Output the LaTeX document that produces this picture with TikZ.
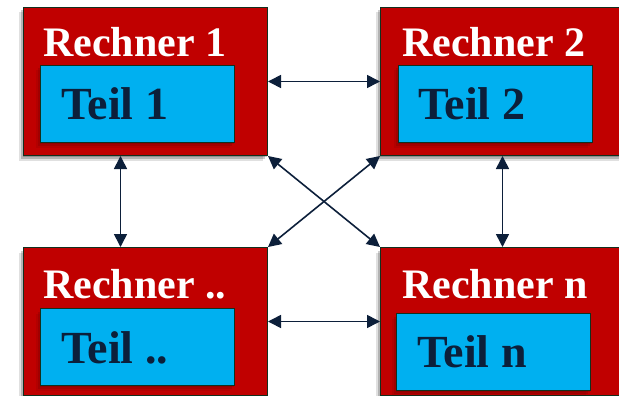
\documentclass[tikz,border=0pt]{standalone}
\usepackage{fontspec}
\setmainfont{Liberation Serif}
\usetikzlibrary{arrows.meta}
\definecolor{boxred}{HTML}{C00000}
\definecolor{teilblue}{HTML}{00B0F0}
\definecolor{edgegreen}{HTML}{12301E}
\definecolor{navy}{HTML}{0C1F3A}
\definecolor{shadowred}{HTML}{5A0000}
\tikzset{
  softshadow/.style 2 args={
    preaction={draw=none, fill=#1, opacity=0.12, transform canvas={shift={(-#2-2pt,-#2-2pt)}}},
    preaction={draw=none, fill=#1, opacity=0.2, transform canvas={shift={(-#2,-#2)}}},
    preaction={draw=none, fill=#1, opacity=0.2, transform canvas={shift={(-#2+2pt,-#2+2pt)}}}},
  rechner/.style={draw=edgegreen, line width=1pt, fill=boxred, rectangle, inner sep=0pt,
    minimum width=244pt, minimum height=148pt, anchor=north west,
    softshadow={black}{3pt}},
  teil/.style={draw=edgegreen, line width=1pt, fill=teilblue, rectangle, inner sep=0pt,
    minimum width=194pt, minimum height=77pt, anchor=north west,
    softshadow={shadowred}{3pt}},
  rlabel/.style={text=white, font=\bfseries\fontsize{42}{42}\selectfont, anchor=base west, inner sep=0pt},
  tlabel/.style={text=navy, font=\bfseries\fontsize{46}{46}\selectfont, anchor=base west, inner sep=0pt},
  link/.style={draw=navy, line width=1.6pt, {Triangle[length=13pt,width=13pt]}-{Triangle[length=13pt,width=13pt]}}
}
\begin{document}
\begin{tikzpicture}[x=1pt,y=-1pt]
\useasboundingbox (0,0) rectangle (619,396);
\clip (0,0) rectangle (619,396);
% boxes
\node[rechner] (r1) at (23,7) {};
\node[rechner] (r2) at (380,7) {};
\node[rechner] (r3) at (23,247) {};
\node[rechner] (r4) at (380,247) {};
\node[teil] (t1) at (40,65) {};
\node[teil] (t2) at (398,65) {};
\node[teil] (t3) at (40,308) {};
\node[teil] (t4) at (396,313) {};
% labels
\node[rlabel] (l1) at (43,57) {Rechner 1};
\node[rlabel] (l2) at (402,57) {Rechner 2};
\node[rlabel] (l3) at (43,298) {Rechner ..};
\node[rlabel] (l4) at (402,298) {Rechner n};
\node[tlabel] (p1) at (61,120) {Teil 1};
\node[tlabel] (p2) at (418,120) {Teil 2};
\node[tlabel] (p3) at (61,363) {Teil ..};
\node[tlabel] (p4) at (417,367) {Teil n};
% connectors
\draw[link] (r1.east) -- (r2.west);
\draw[link] (r3.east) -- (r4.west);
\draw[link] ([xshift=-25pt]r1.south) -- ([xshift=-25pt]r3.north);
\draw[link] (r2.south) -- (r4.north);
\draw[link] (r1.south east) -- (r4.north west);
\draw[link] (r2.south west) -- (r3.north east);
\end{tikzpicture}
\end{document}
